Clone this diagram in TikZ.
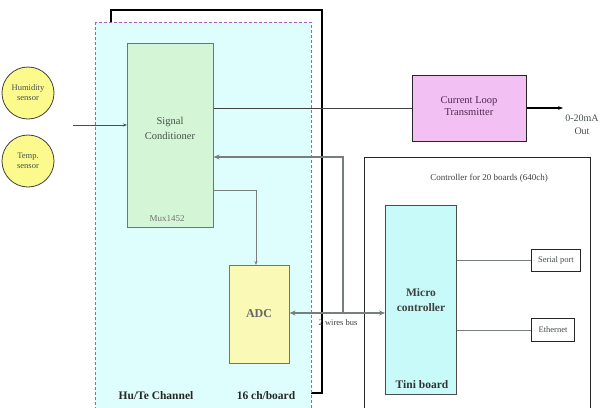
\documentclass[tikz,border=0pt]{standalone}
\usepackage{fontspec}
\setmainfont{Liberation Serif}
\usetikzlibrary{arrows.meta}
\definecolor{cyanbg}{RGB}{222,254,254}
\definecolor{scgreen}{RGB}{212,246,214}
\definecolor{adcyel}{RGB}{250,250,182}
\definecolor{mcucyan}{RGB}{200,250,250}
\definecolor{clpink}{RGB}{242,192,242}
\definecolor{sensyel}{RGB}{252,250,140}
\definecolor{dashpurple}{RGB}{170,90,200}
\definecolor{linegray}{RGB}{120,125,125}
\definecolor{txtgray}{RGB}{70,80,75}
\definecolor{txtpurple}{RGB}{80,40,80}
\tikzset{
  sensor/.style={circle,draw=black!75,line width=0.8pt,fill=sensyel,minimum size=52pt,inner sep=0pt,align=center,font=\fontsize{8.5}{10}\selectfont,text=txtgray},
  block/.style={draw=black!55,line width=0.6pt,inner sep=0pt,anchor=north west},
  smallbox/.style={draw=black!85,line width=1pt,inner sep=0pt,anchor=north west,fill=white,font=\fontsize{8.5}{10}\selectfont,text=txtgray},
  gline/.style={draw=linegray,line width=1pt},
  thickg/.style={draw=linegray,line width=1.8pt},
  boldlab/.style={font=\bfseries\fontsize{11.5}{13}\selectfont,text=black!85},
}
\begin{document}
\begin{tikzpicture}[x=1pt,y=-1pt]
\useasboundingbox (0,0) rectangle (607,407);
\clip (0,0) rectangle (607,407);
\fill[white] (0,0) rectangle (607,407);
% back board
\draw[black,line width=1.2pt] (111,24) -- (111,10) -- (322,10) -- (322,393) -- (311,393);
% channel board
\draw[dashpurple,densely dashed,line width=0.7pt,fill=cyanbg] (95,22) rectangle (311,412);
% signal conditioner
\node[block,fill=scgreen,minimum width=86pt,minimum height=184pt] (sc) at (127,43) {};
\node[text=txtgray,font=\fontsize{10.5}{15}\selectfont,align=center] (sct) at (170,128) {Signal\\Conditioner};
\node[text=black!55,font=\fontsize{9}{10}\selectfont] (mux) at (167,219) {Mux1452};
% ADC
\node[block,fill=adcyel,minimum width=60pt,minimum height=98pt] (adc) at (229,265) {};
\node[text=black!60,font=\bfseries\fontsize{12}{14}\selectfont] (adct) at (259,314) {ADC};
% labels
\node[boldlab] (hute) at (156,396) {Hu/Te Channel};
\node[boldlab] (chb) at (266,396) {16 ch/board};
% sensors
\node[sensor] (hum) at (28,93) {Humidity\\sensor};
\node[sensor] (temp) at (28,161) {Temp.\\sensor};
\coordinate (inp) at (73,125);
\draw[line width=1pt,black!70,-{Stealth[length=4pt]}] (inp) -- (sc.west |- inp);
% current loop
\node[block,draw=black!85,line width=1.2pt,fill=clpink,minimum width=114pt,minimum height=66pt] (cl) at (412,75) {};
\node[text=txtpurple,font=\fontsize{10.5}{12.5}\selectfont,align=center] (clt) at (469,106) {Current Loop\\Transmitter};
\draw[black!75,line width=0.5pt] (sc.east |- 0,108) -- (cl.west |- 0,108);
\coordinate (outp) at (563,108);
\draw[black,line width=1.4pt,-{Stealth[length=5pt]}] (cl.east |- outp) -- (outp);
\node[text=txtgray,font=\fontsize{10}{13}\selectfont,align=center] (out) at (582,125) {0-20mA\\Out};
% controller
\draw[black!85,line width=0.9pt,fill=white] (364,157) rectangle (590,412);
\node[text=black!75,font=\fontsize{9}{10}\selectfont] (ctl) at (489,178) {Controller for 20 boards (640ch)};
\node[block,draw=black!70,line width=0.8pt,fill=mcucyan,minimum width=71pt,minimum height=189pt] (mcu) at (385,205) {};
\node[text=black!75,font=\bfseries\fontsize{11.5}{15}\selectfont,align=center] (mct) at (421,300) {Micro\\controller};
\node[text=black!80,font=\bfseries\fontsize{11.5}{13}\selectfont] (tini) at (422,385) {Tini board};
\node[smallbox,minimum width=49pt,minimum height=22pt] (ser) at (531,249) {Serial port};
\node[smallbox,minimum width=43pt,minimum height=23pt] (eth) at (531,318) {Ethernet};
\draw[gline] (mcu.east |- ser.west) -- (ser.west);
\draw[gline] (mcu.east |- eth.west) -- (eth.west);
% SC -> ADC
\coordinate (bend) at (256,190);
\draw[gline,-{Stealth[length=4pt]}] (sc.east |- bend) -- (bend) -- (adc.north -| bend);
% bus
\coordinate (busj) at (343,313);
\coordinate (bust) at (343,157);
\draw[thickg,-{Stealth[length=6pt,width=5pt]}] (busj) -- (bust) -- (sc.east |- bust);
\draw[thickg,{Stealth[length=6pt,width=5pt]}-{Stealth[length=6pt,width=5pt]}] (adc.east |- busj) -- (mcu.west |- busj);
\node[text=black!75,font=\fontsize{8.5}{10}\selectfont] (bus) at (338,323) {2 wires bus};
\end{tikzpicture}
\end{document}
